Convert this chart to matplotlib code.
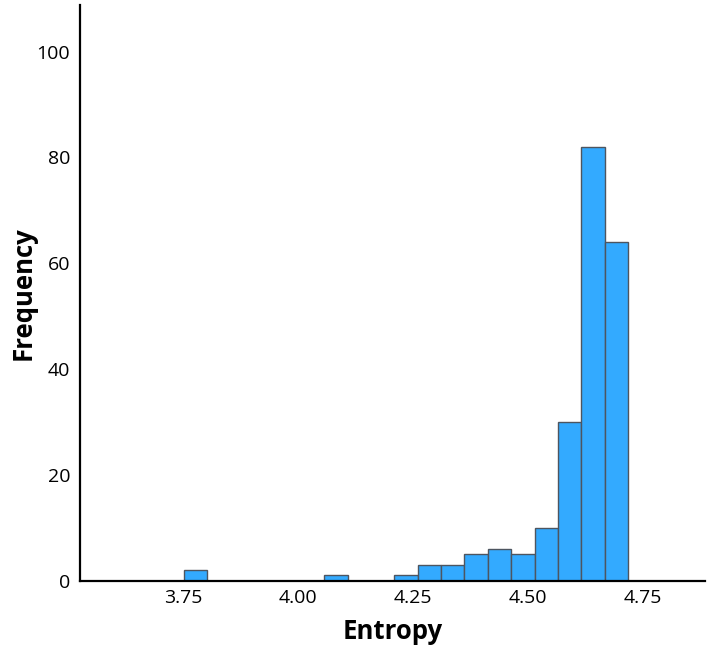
import numpy as np
import matplotlib
matplotlib.use("Agg")
from matplotlib import pyplot as plt

# histogram of entropy values
bin_start = 3.752
bin_width = 0.0508
counts = [2, 0, 0, 0, 0, 0, 1, 0, 0, 1, 3, 3, 5, 6, 5, 10, 30, 82, 64]

x_ticks = [3.75, 4.00, 4.25, 4.50, 4.75]
x_labels = ["3.75", "4.00", "4.25", "4.50", "4.75"]
y_ticks = [0, 20, 40, 60, 80, 100]

plt.rcParams['font.family'] = ['Open Sans', 'DejaVu Sans']

edges = bin_start + bin_width * np.arange(len(counts) + 1)

fig = plt.figure(figsize=(7.12, 6.52), dpi=100)
ax = fig.add_axes([0.1124, 0.1094, 0.878, 0.883])

ax.bar(edges[:-1], counts, width=bin_width, align='edge',
       color='#33aaff', edgecolor='#4d5560', linewidth=1.0)

ax.set_xlim(3.526, 4.885)
ax.set_ylim(0, 108.8)
ax.set_xticks(x_ticks)
ax.set_xticklabels(x_labels)
ax.set_yticks(y_ticks)
ax.tick_params(length=0, labelsize=14)
ax.tick_params(axis='y', pad=7)
ax.tick_params(axis='x', pad=6)

for side in ('top', 'right'):
    ax.spines[side].set_visible(False)
for side in ('left', 'bottom'):
    ax.spines[side].set_linewidth(1.6)
    ax.spines[side].set_color('black')

ax.set_xlabel("Entropy", fontsize=18.5, fontweight='bold', labelpad=8)
ax.set_ylabel("Frequency", fontsize=18.5, fontweight='bold', labelpad=0)

fig.savefig("out.png", dpi=100)
